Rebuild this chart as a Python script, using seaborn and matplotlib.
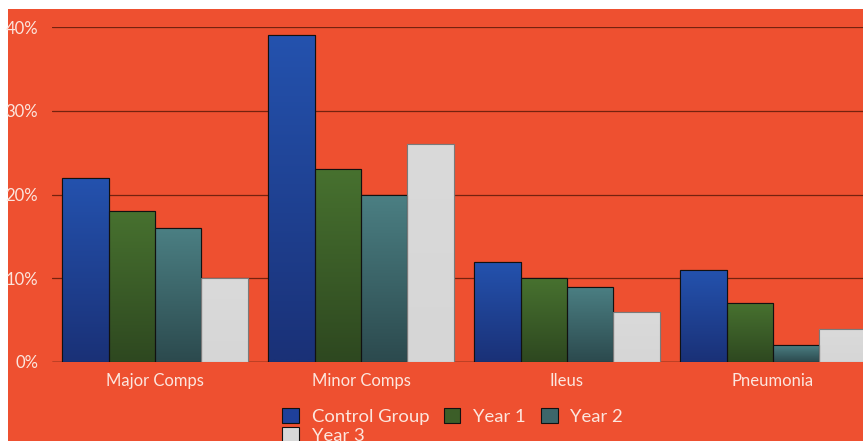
import numpy as np
import pandas as pd
import matplotlib
matplotlib.use("Agg")
import matplotlib.pyplot as plt
import matplotlib.colors as mcolors
from matplotlib.patches import Rectangle
import seaborn as sns

categories = ["Major Comps", "Minor Comps", "Ileus", "Pneumonia"]
series = ["Control Group", "Year 1", "Year 2", "Year 3"]
control_group = [22, 39, 12, 11]
year1 = [18, 23, 10, 7]
year2 = [16, 20, 9, 2]
year3 = [10, 26, 6, 4]
y_ticks = [0, 10, 20, 30, 40]
y_tick_labels = ["0%", "10%", "20%", "30%", "40%"]

rows = []
for name, vals in zip(series, [control_group, year1, year2, year3]):
    for c, v in zip(categories, vals):
        rows.append({"category": c, "series": name, "value": v})
df = pd.DataFrame(rows)

BG = "#EE5030"
top_cols = ["#2452AE", "#47712F", "#4B7F83", "#DADADA"]
bot_cols = ["#1A3177", "#2E4820", "#2C4A4E", "#D6D6D6"]
mid_cols = ["#1F409A", "#3C5E28", "#3D666A", "#D8D8D8"]
edge_cols = ["#111111", "#111111", "#111111", "#7a7a7a"]
TXT = "#FCE6DE"

sns.set_theme(style="white")
plt.rcParams["font.family"] = ["Lato", "DejaVu Sans"]

fig = plt.figure(figsize=(8.63, 4.41), dpi=100)
fig.patch.set_facecolor("white")
fig.patches.append(Rectangle((8 / 863, 0), 1 - 8 / 863, 1 - 9 / 441,
                             transform=fig.transFigure, facecolor=BG,
                             edgecolor="none", zorder=-10))
ax = fig.add_axes([52 / 863, 1 - 362 / 441, 1 - 52 / 863, (362 - 27) / 441])
ax.set_facecolor(BG)

sns.barplot(data=df, x="category", y="value", hue="series", order=categories,
            hue_order=series, palette=mid_cols, width=0.9, saturation=1,
            edgecolor="#111111", linewidth=0.8, ax=ax, zorder=3)

# vertical gradients clipped to each bar
for i, cont in enumerate(ax.containers):
    c0 = np.array(mcolors.to_rgb(top_cols[i]))
    c1 = np.array(mcolors.to_rgb(bot_cols[i]))
    t = np.linspace(0, 1, 64)[:, None]
    grad = (c0 * (1 - t) + c1 * t)[:, None, :]
    for p in cont.patches:
        p.set_edgecolor(edge_cols[i])
        x0, y0 = p.get_x(), p.get_y()
        w, h = p.get_width(), p.get_height()
        im = ax.imshow(grad, extent=[x0, x0 + w, y0, y0 + h], aspect="auto",
                       origin="upper", zorder=3.1, interpolation="bilinear")
        im.set_clip_path(p)
        ax.add_patch(Rectangle((x0, y0), w, h, facecolor="none",
                               edgecolor=edge_cols[i], linewidth=0.8, zorder=3.2))

ax.set_xlim(-0.5, 3.437)
ax.set_ylim(0, 40)

ax.set_yticks(y_ticks)
ax.set_yticklabels(y_tick_labels)
ax.yaxis.grid(True, color="#74220F", linewidth=0.9)
ax.xaxis.grid(False)
ax.set_axisbelow(True)
for s in ax.spines.values():
    s.set_visible(False)
ax.axhline(0, color="#3a1a10", linewidth=1.0, zorder=2)
ax.tick_params(axis="both", length=0, colors=TXT, labelsize=12)
ax.tick_params(axis="y", pad=10)
ax.tick_params(axis="x", pad=8)
ax.set_xlabel("")
ax.set_ylabel("")

handles, labels = ax.get_legend_handles_labels()
order = [0, 3, 1, 2]
leg = ax.legend([handles[k] for k in order], [labels[k] for k in order],
                ncol=3, loc="upper left", frameon=False, fontsize=13.3,
                labelcolor=TXT, handlelength=0.9, handleheight=0.9,
                columnspacing=0.8, handletextpad=0.7, labelspacing=0.12,
                borderaxespad=0, borderpad=0)
leg.set_bbox_to_anchor((282 / 863, 1 - 408 / 441), transform=fig.transFigure)

fig.savefig("out.png", dpi=100, facecolor=fig.get_facecolor())
